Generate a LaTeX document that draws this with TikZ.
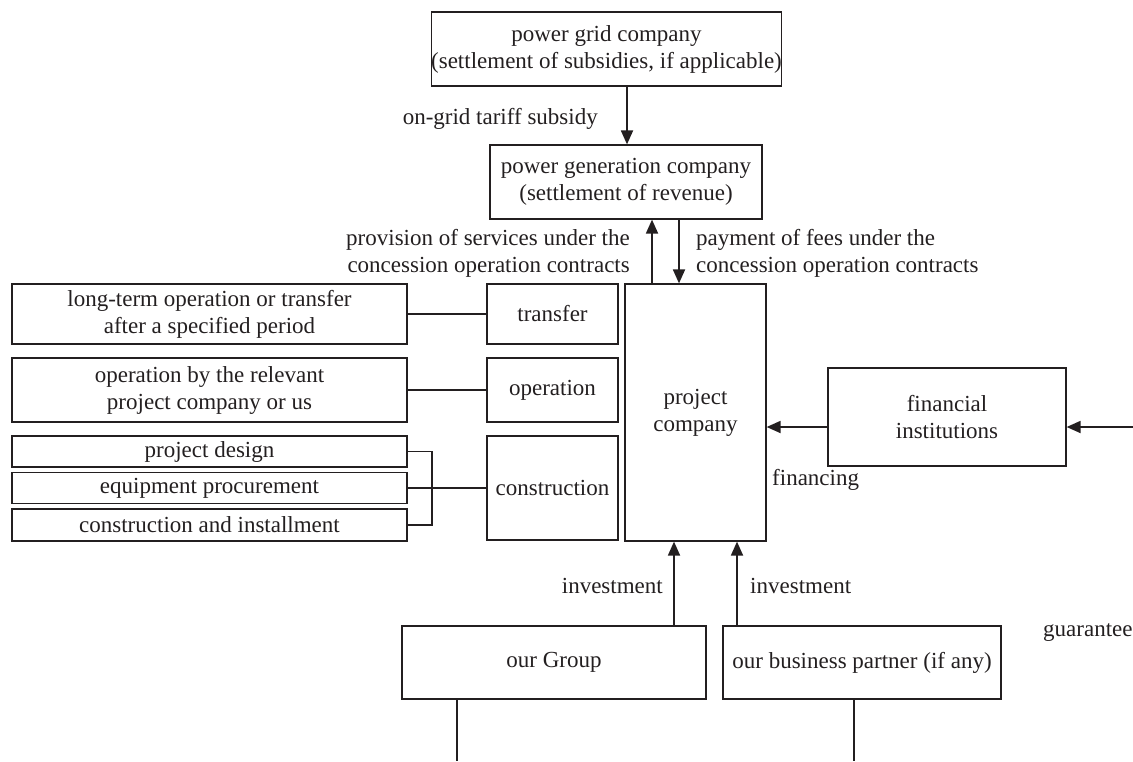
\documentclass[tikz,border=0pt]{standalone}
\usepackage{fontspec}
\setmainfont{Liberation Serif}
\usetikzlibrary{arrows.meta}
\definecolor{ink}{HTML}{231F20}
\begin{document}
\begin{tikzpicture}[x=1pt,y=-1pt,
  every node/.style={font=\fontsize{23}{27}\selectfont, text=ink},
  box/.style={draw=ink, line width=1.2pt, rectangle, inner sep=0pt, align=center},
  lbl/.style={inner sep=0pt},
  conn/.style={draw=ink, line width=1.8pt},
  arr/.style={conn, -{Triangle[length=14pt,width=12pt]}}]
\useasboundingbox (0,0) rectangle (1133,761);

% boxes
\node[box, minimum width=347pt, minimum height=74pt] (grid) at (606.5,49) {power grid company\\(settlement of subsidies, if applicable)};
\node[box, minimum width=272pt, minimum height=74pt] (gen) at (626,182) {power generation company\\(settlement of revenue)};
\node[box, minimum width=141pt, minimum height=257pt] (proj) at (695.5,412.5) {project\\company};
\node[box, minimum width=131pt, minimum height=60pt] (transfer) at (552.5,314) {transfer};
\node[box, minimum width=131pt, minimum height=64pt] (operation) at (552.5,390) {operation};
\node[box, minimum width=131pt, minimum height=104pt] (construction) at (552.5,488) {construction};
\node[box, minimum width=395pt, minimum height=60pt] (longterm) at (209.5,314) {long-term operation or transfer\\after a specified period};
\node[box, minimum width=395pt, minimum height=64pt] (opby) at (209.5,390) {operation by the relevant\\project company or us};
\node[box, minimum width=395pt, minimum height=31pt] (design) at (209.5,451.5) {project design};
\node[box, minimum width=395pt, minimum height=31pt] (equip) at (209.5,488) {equipment procurement};
\node[box, minimum width=395pt, minimum height=32pt] (install) at (209.5,525) {construction and installment};
\node[box, minimum width=238pt, minimum height=98pt] (fin) at (947,417) {financial\\institutions};
\node[box, minimum width=304pt, minimum height=73pt] (group) at (554,662.5) {our Group};
\node[box, minimum width=278pt, minimum height=73pt] (partner) at (862,662.5) {our business partner (if any)};

% labels
\node[lbl, anchor=east] (lsub) at (598,119) {on-grid tariff subsidy};
\node[lbl, anchor=east, align=right] (lprov) at (630,253) {provision of services under the\\concession operation contracts};
\node[lbl, anchor=west, align=left] (lpay) at (696,253) {payment of fees under the\\concession operation contracts};
\node[lbl, anchor=west] (lfin) at (772,480) {financing};
\node[lbl, anchor=east] (linv1) at (663,586) {investment};
\node[lbl, anchor=west] (linv2) at (750,586) {investment};
\node[lbl, anchor=west] (lguar) at (1043,632) {guarantee};

% helper coordinates
\coordinate (xa) at (627,0);
\coordinate (xb) at (652,0);
\coordinate (xc) at (679,0);
\coordinate (xd) at (674,0);
\coordinate (xe) at (737,0);
\coordinate (xf) at (457,0);
\coordinate (xg) at (854,0);
\coordinate (bx) at (432,0);
\coordinate (yfin) at (0,427);
\coordinate (rin) at (1133,427);
\coordinate (bot) at (0,761);

% connectors
\draw[arr] (grid.south -| xa) -- (gen.north -| xa);
\draw[arr] (proj.north -| xb) -- (gen.south -| xb);
\draw[arr] (gen.south -| xc) -- (proj.north -| xc);
\draw[arr] (group.north -| xd) -- (proj.south -| xd);
\draw[arr] (partner.north -| xe) -- (proj.south -| xe);
\draw[arr] (fin.west |- yfin) -- (proj.east |- yfin);
\draw[arr] (rin) -- (fin.east |- rin);
\draw[conn] (group.south -| xf) -- (xf |- bot);
\draw[conn] (partner.south -| xg) -- (xg |- bot);
\draw[conn] (longterm.east) -- (transfer.west);
\draw[conn] (opby.east) -- (operation.west);
\draw[conn] (equip.east) -- (construction.west |- equip.east);
\draw[conn, line width=1.4pt] (design.east) -| (bx |- install.east) -- (install.east);
\end{tikzpicture}
\end{document}
